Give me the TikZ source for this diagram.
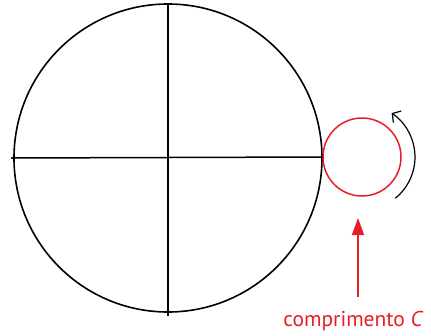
\documentclass[tikz,border=0pt]{standalone}
\usepackage{fontspec}
\setmainfont{PT Sans}
\usetikzlibrary{arrows.meta}
\definecolor{vermelho}{RGB}{230,30,40}
\begin{document}
\begin{tikzpicture}[x=1pt, y=-1pt]
		\useasboundingbox (0,0) rectangle (431,335);
		\node[draw, circle, line width=1.6pt, minimum size=308pt, inner sep=0pt] (roda) at (168,158) {};
		\node[draw=vermelho, circle, line width=1.5pt, minimum size=78pt, inner sep=0pt] (moeda) at (362,157) {};
		\draw[line width=1.5pt] ([xshift=-2pt]roda.west) -- (moeda.west);
		\draw[line width=1.5pt] (roda.north) -- ([yshift=-3pt]roda.south);
		\draw[line width=1.2pt, -{Straight Barb[length=6pt, width=14pt]}] ([shift={(51:53)}]moeda.center) arc[start angle=51, end angle=-56, radius=53];
		\node[text=vermelho, anchor=base, font=\fontsize{21.5}{24}\selectfont] (texto) at (353.5,326) {comprimento \textit{C}};
		\coordinate (ponta) at (358,218);
		\draw[vermelho, line width=1.6pt, -{Triangle[length=17pt, width=12pt]}] (ponta |- 0,297) -- (ponta);
	\end{tikzpicture}
\end{document}
